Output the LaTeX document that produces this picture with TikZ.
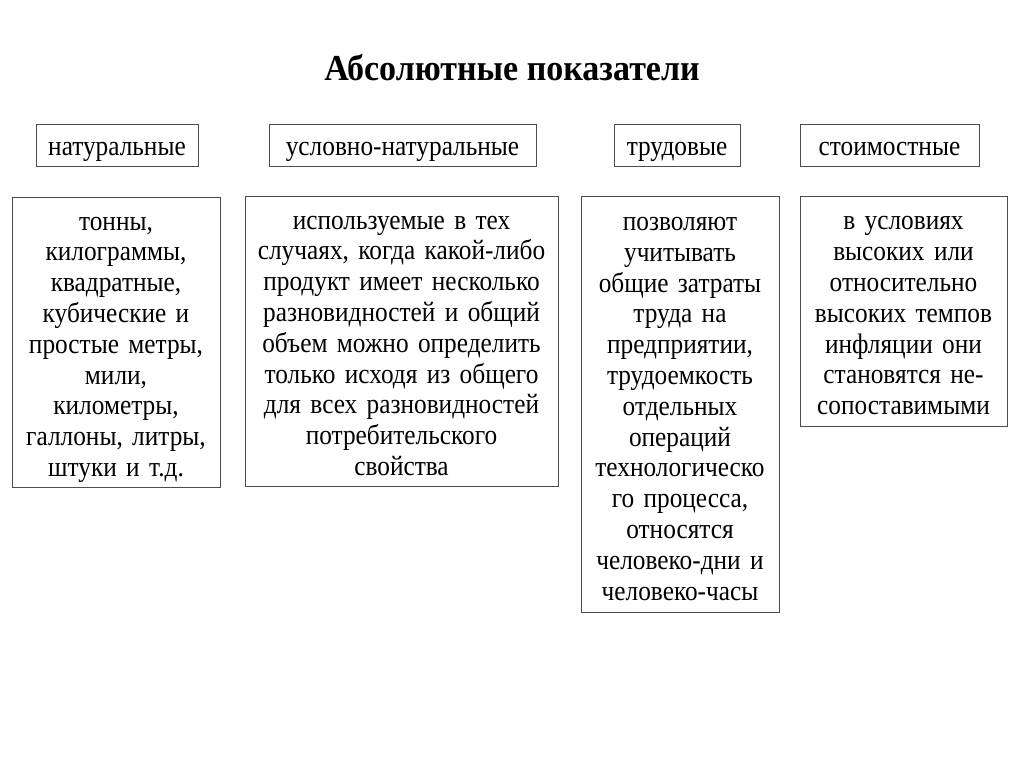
\documentclass[tikz,border=0pt]{standalone}
\usepackage{fontspec}
\setmainfont[FakeStretch=0.9]{Liberation Serif}
\newfontfamily\titlefont[FakeStretch=0.93]{Liberation Serif}
\usetikzlibrary{positioning}
\newcommand{\topstrut}{\rule{0pt}{21pt}}
\newcommand{\botstrut}{\rule[-5pt]{0pt}{5pt}}
\begin{document}
\begin{tikzpicture}[x=0.025cm, y=-0.025cm,
  kind/.style={draw=black!70, line width=0.6pt, inner sep=0pt, minimum height=1.05cm,
    text height=17.7pt, text depth=2.4pt, font=\fontsize{20}{22}\selectfont},
  note/.style={draw=black!70, line width=0.6pt, inner xsep=0pt, inner ysep=0pt, align=center,
    font=\fontsize{20}{21.9}\selectfont,
    execute at begin node=\topstrut, execute at end node=\botstrut}]
\useasboundingbox (0,0) rectangle (1024,767);
% title
\node[font=\titlefont\bfseries\fontsize{26}{30}\selectfont] (title) at (512,68) {Абсолютные показатели};
%% ------------------------------------------------------------------ kinds
\node[kind, minimum width=4.05cm]  (nat)  at (117,145) {натуральные};
\node[kind, minimum width=6.675cm] (cond) at (402.5,145) {условно-натуральные};
\node[kind, minimum width=3.15cm]  (lab)  at (677,145) {трудовые};
\node[kind, minimum width=4.475cm] (cost) at (889.5,145) {стоимостные};
%% ------------------------------------------------------------------ notes
\node[note, text width=5.2cm, minimum height=7.25cm] (natnote) at (116,342)
  {тонны,\\ килограммы,\\ квадратные,\\ кубические и\\ простые метры,\\ мили,\\ километры,\\ галлоны, литры,\\ штуки и т.д.};
\node[note, text width=7.825cm, minimum height=7.25cm] (condnote) at (401.5,341)
  {используемые в тех\\ случаях, когда какой-либо\\ продукт имеет несколько\\ разновидностей и общий\\ объем можно определить\\ только исходя из общего\\ для всех разновидностей\\ потребительского\\ свойства};
\node[note, text width=4.95cm, minimum height=10.4cm] (labnote) at (680,404)
  {позволяют\\ учитывать\\ общие затраты\\ труда на\\ предприятии,\\ трудоемкость\\ отдельных\\ операций\\ технологическо\\ го процесса,\\ относятся\\ человеко-дни и\\ человеко-часы};
\node[note, text width=5.175cm, minimum height=5.75cm] (costnote) at (903.5,311)
  {в условиях\\ высоких или\\ относительно\\ высоких темпов\\ инфляции они\\ становятся не-\\ сопоставимыми};
\end{tikzpicture}
\end{document}
